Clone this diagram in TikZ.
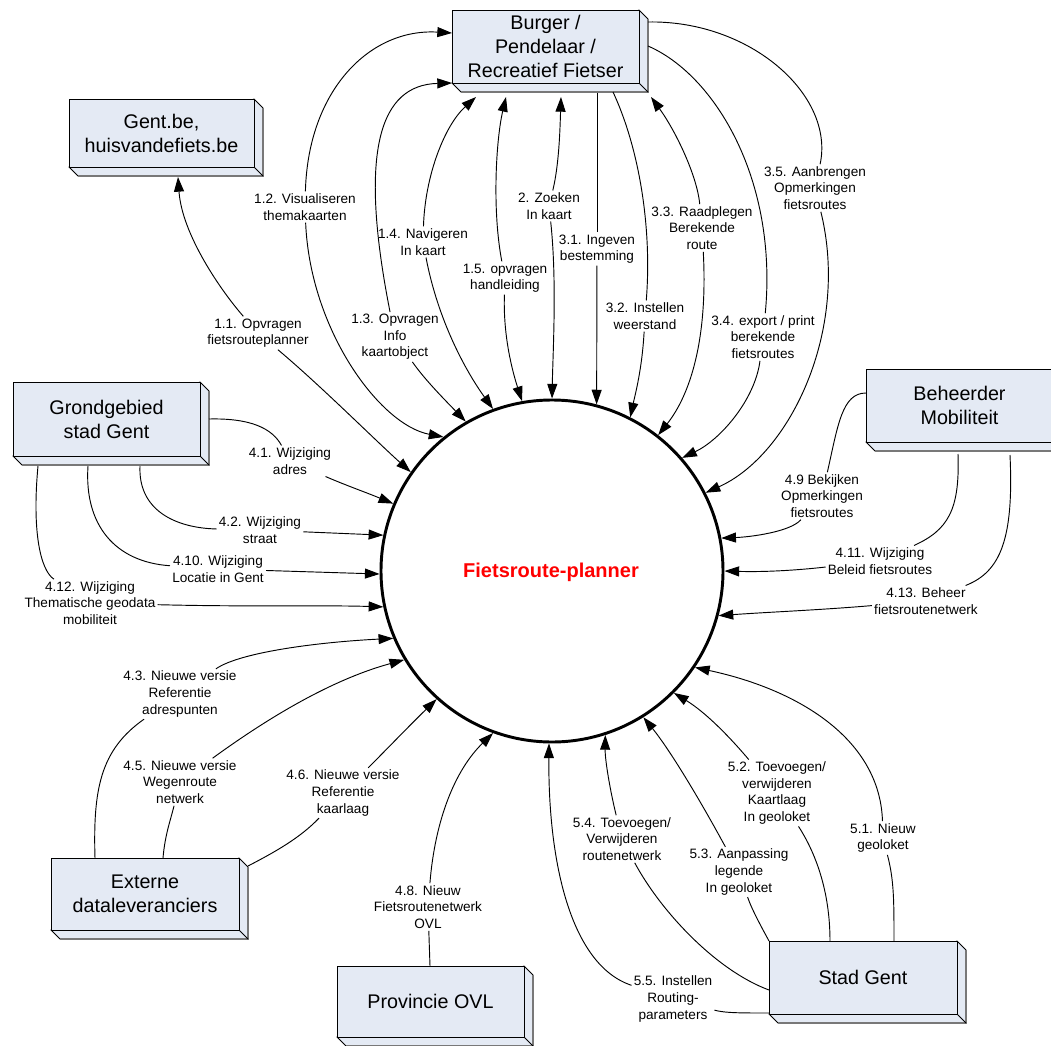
\documentclass[tikz,border=0pt]{standalone}
\usepackage{fontspec}
\setmainfont{Liberation Sans}
\usetikzlibrary{arrows.meta}
\definecolor{boxblue}{RGB}{228,234,244}
\definecolor{edgegray}{RGB}{120,120,120}
\tikzset{
  lbl/.style={font=\fontsize{10.2}{12.4}\selectfont, align=center, inner sep=1.5pt},
  boxface/.style={draw=black, line width=0.75pt, fill=boxblue, inner sep=0pt, outer sep=0pt, align=center, font=\fontsize{14.8}{18}\selectfont},
  boxside/.style={fill=boxblue, draw=black, line width=0.6pt},
  boxedge/.style={draw=edgegray, line width=1.5pt},
  flow/.style={line width=0.7pt},
  flowarr/.style={flow, -{Triangle[length=11pt,width=7.5pt]}},
  flowsrc/.style={flow, {Triangle[length=11pt,width=7.5pt]}-},
}
\newcommand\dfdbox[6]{%
  \filldraw[boxside] (#4,#3) -- (#4+9,#3+9) -- (#4+9,#5+9) -- (#2+9,#5+9) -- (#2,#5) -- cycle;
  \draw[boxedge] (#4+9,#3+9) -- (#4+9,#5+9) -- (#2+9,#5+9);
  \draw[line width=0.6pt] (#4,#5) -- (#4+9,#5+9);
  \node[boxface, minimum width={(#4-#2)*0.75pt}, minimum height={(#5-#3)*0.75pt}] (#1) at ({(#2+#4)/2},{(#3+#5)/2}) {#6};
}
\begin{document}
\begin{tikzpicture}[x=0.75pt,y=-0.75pt]
\useasboundingbox (0,0) rectangle (1051,1046);
\fill[white] (0,0) rectangle (1051,1046);

% boxes
\dfdbox{burger}{452}{10}{639}{83}{Burger /\\Pendelaar /\\Recreatief Fietser}
\dfdbox{gentbe}{69}{99}{254}{167}{Gent.be,\\huisvandefiets.be}
\dfdbox{grond}{13}{382}{200}{456}{Grondgebied\\stad Gent}
\dfdbox{beheer}{866}{369}{1053}{442}{Beheerder\\Mobiliteit}
\dfdbox{extern}{51}{858}{239}{930}{Externe\\dataleveranciers}
\dfdbox{prov}{337}{966}{524}{1037}{Provincie OVL}
\dfdbox{stad}{769}{941}{957}{1014}{Stad Gent}

% central process
\node[circle, draw, line width=2.2pt, minimum size=256.5pt, inner sep=0pt] (fp) at (552,571) {};
\node[font=\fontsize{15}{18}\selectfont\bfseries, text=red] (title) at (551,572) {Fietsroute-planner};

% source points
\coordinate (s11) at (178,177);
\coordinate (s12) at (452,33);
\coordinate (s13) at (452,83);
\coordinate (s14) at (476,97);
\coordinate (s15) at (506,97);
\coordinate (s2) at (561,97);
\coordinate (s31) at (597,93);
\coordinate (s32) at (613,92);
\coordinate (s33) at (651,97);
\coordinate (s34) at (648,46);
\coordinate (s35) at (648,22);
\coordinate (s41) at (209,419);
\coordinate (s42) at (140,466);
\coordinate (s410) at (88,466);
\coordinate (s412) at (38,466);
\coordinate (s43) at (95,858);
\coordinate (s45) at (163,858);
\coordinate (s46) at (248,866);
\coordinate (s48) at (430,966);
\coordinate (s55) at (769,1013);
\coordinate (s54) at (769,990);
\coordinate (s53) at (769,941);
\coordinate (s52) at (830,941);
\coordinate (s51) at (894,941);
\coordinate (s49) at (866,393);
\coordinate (s411) at (958,454);
\coordinate (s413) at (1010,455);

% labels
\node[lbl] (l11) at (258,333) {1.1. Opvragen\\fietsrouteplanner};
\node[lbl] (l12) at (305,207) {1.2. Visualiseren\\themakaarten};
\node[lbl] (l13) at (395,337) {1.3. Opvragen\\Info\\kaartobject};
\node[lbl] (l14) at (423,242) {1.4. Navigeren\\In kaart};
\node[lbl] (l15) at (505,278) {1.5. opvragen\\handleiding};
\node[lbl] (l2) at (549,206) {2. Zoeken\\In kaart};
\node[lbl] (l31) at (597,249) {3.1. Ingeven\\bestemming};
\node[lbl] (l32) at (645,316) {3.2. Instellen\\weerstand};
\node[lbl] (l33) at (702,228) {3.3. Raadplegen\\Berekende\\route};
\node[lbl] (l34) at (763,337) {3.4. export / print\\berekende\\fietsroutes};
\node[lbl] (l35) at (815,188) {3.5. Aanbrengen\\Opmerkingen\\fietsroutes};
\node[lbl] (l41) at (290,461) {4.1. Wijziging\\adres};
\node[lbl] (l42) at (260,530) {4.2. Wijziging\\straat};
\node[lbl] (l410) at (218,569) {4.10. Wijziging\\Locatie in Gent};
\node[lbl] (l412) at (90,603) {4.12. Wijziging\\Thematische geodata\\mobiliteit};
\node[lbl] (l43) at (180,694) {4.3. Nieuwe versie\\Referentie\\adrespunten};
\node[lbl] (l45) at (180,782) {4.5. Nieuwe versie\\Wegenroute\\netwerk};
\node[lbl] (l46) at (343,793) {4.6. Nieuwe versie\\Referentie\\kaarlaag};
\node[lbl] (l48) at (428,907) {4.8. Nieuw\\Fietsroutenetwerk\\OVL};
\node[lbl] (l55) at (673,999) {5.5. Instellen\\Routing-\\parameters};
\node[lbl] (l54) at (622,839) {5.4. Toevoegen/\\Verwijderen\\routenetwerk};
\node[lbl] (l53) at (739,872) {5.3. Aanpassing\\legende\\In geoloket};
\node[lbl] (l52) at (777,793) {5.2. Toevoegen/\\verwijderen\\Kaartlaag\\In geoloket};
\node[lbl] (l51) at (883,838) {5.1. Nieuw\\geoloket};
\node[lbl] (l49) at (822,496) {4.9 Bekijken\\Opmerkingen\\fietsroutes};
\node[lbl] (l411) at (880,561) {4.11. Wijziging\\Beleid fietsroutes};
\node[lbl] (l413) at (926,601) {4.13. Beheer\\fietsroutenetwerk};

% connectors
\draw[flowsrc] (s11) .. controls (182,235) and (222,292) .. (l11);
\draw[flowarr] (l11) .. controls (320,385) and (375,440) .. (fp.145);

\draw[flowsrc] (s12) .. controls (370,28) and (308,90) .. (l12);
\draw[flowarr] (l12) .. controls (310,330) and (380,425) .. (fp.129);

\draw[flowsrc] (s13) .. controls (380,85) and (358,150) .. (l13);
\draw[flowarr] (l13) .. controls (425,380) and (445,400) .. (fp.120);

\draw[flowsrc] (s14) .. controls (445,125) and (425,175) .. (l14);
\draw[flowarr] (l14) .. controls (438,320) and (465,370) .. (fp.110);

\draw[flowsrc] (s15) .. controls (496,140) and (492,210) .. (l15);
\draw[flowarr] (l15) .. controls (503,335) and (512,370) .. (fp.100);

\draw[flowsrc] (s2) .. controls (560,130) and (559,165) .. (l2);
\draw[flowarr] (l2) .. controls (557,280) and (553,350) .. (fp.90);

\draw[flow] (s31) -- (l31);
\draw[flowarr] (l31) -- (fp.75);

\draw[flow] (s32) .. controls (640,150) and (652,230) .. (l32);
\draw[flowarr] (l32) .. controls (642,370) and (635,395) .. (fp.63);

\draw[flowsrc] (s33) .. controls (675,130) and (697,175) .. (l33);
\draw[flowarr] (l33) .. controls (708,340) and (690,395) .. (fp.52);

\draw[flow] (s34) .. controls (715,75) and (778,180) .. (l34);
\draw[flowarr] (l34) .. controls (755,400) and (720,440) .. (fp.41);

\draw[flow] (s35) .. controls (750,20) and (835,95) .. (l35);
\draw[flowarr] (l35) .. controls (850,330) and (790,455) .. (fp.27);

\draw[flow] (s41) .. controls (250,418) and (272,428) .. (l41);
\draw[flowarr] (l41) .. controls (345,485) and (365,492) .. (fp.157);

\draw[flow] (s42) .. controls (138,510) and (175,528) .. (l42);
\draw[flowarr] (l42) -- (fp.168);

\draw[flow] (s410) .. controls (84,525) and (115,562) .. (l410);
\draw[flowarr] (l410) -- (fp.181);

\draw[flow] (s412) .. controls (32,530) and (40,570) .. (l412);
\draw[flowarr] (l412) .. controls (250,607) and (320,605) .. (fp.192);

\draw[flow] (s43) .. controls (93,790) and (100,750) .. (l43);
\draw[flowarr] (l43) .. controls (240,652) and (320,642) .. (fp.203);

\draw[flow] (s45) .. controls (165,835) and (170,822) .. (l45);
\draw[flowarr] (l45) .. controls (265,720) and (330,680) .. (fp.211);

\draw[flow] (s46) .. controls (275,852) and (300,838) .. (l46);
\draw[flowarr] (l46) .. controls (388,748) and (410,725) .. (fp.228);

\draw[flow] (s48) -- (l48);
\draw[flowarr] (l48) .. controls (435,820) and (455,770) .. (fp.250);

\draw[flow] (s55) .. controls (740,1013) and (725,1013) .. (l55);
\draw[flowarr] (l55) .. controls (570,965) and (548,860) .. (fp.269);

\draw[flow] (s54) .. controls (715,970) and (660,910) .. (l54);
\draw[flowarr] (l54) .. controls (610,790) and (605,760) .. (fp.288);

\draw[flow] (s53) .. controls (762,928) and (752,910) .. (l53);
\draw[flowarr] (l53) .. controls (700,800) and (670,750) .. (fp.302);

\draw[flow] (s52) .. controls (830,890) and (815,852) .. (l52);
\draw[flowarr] (l52) .. controls (728,735) and (705,712) .. (fp.315);

\draw[flow] (s51) .. controls (894,900) and (894,880) .. (l51);
\draw[flowarr] (l51) .. controls (880,740) and (800,690) .. (fp.326);

\draw[flow] (s49) .. controls (842,393) and (838,425) .. (l49);
\draw[flowarr] (l49) .. controls (790,532) and (750,537) .. (fp.11);

\draw[flow] (s411) .. controls (960,510) and (948,530) .. (l411);
\draw[flowarr] (l411) .. controls (790,571) and (760,572) .. (fp.0);

\draw[flow] (s413) .. controls (1014,540) and (1000,572) .. (l413);
\draw[flowarr] (l413) .. controls (820,610) and (770,612) .. (fp.345);
\end{tikzpicture}
\end{document}
